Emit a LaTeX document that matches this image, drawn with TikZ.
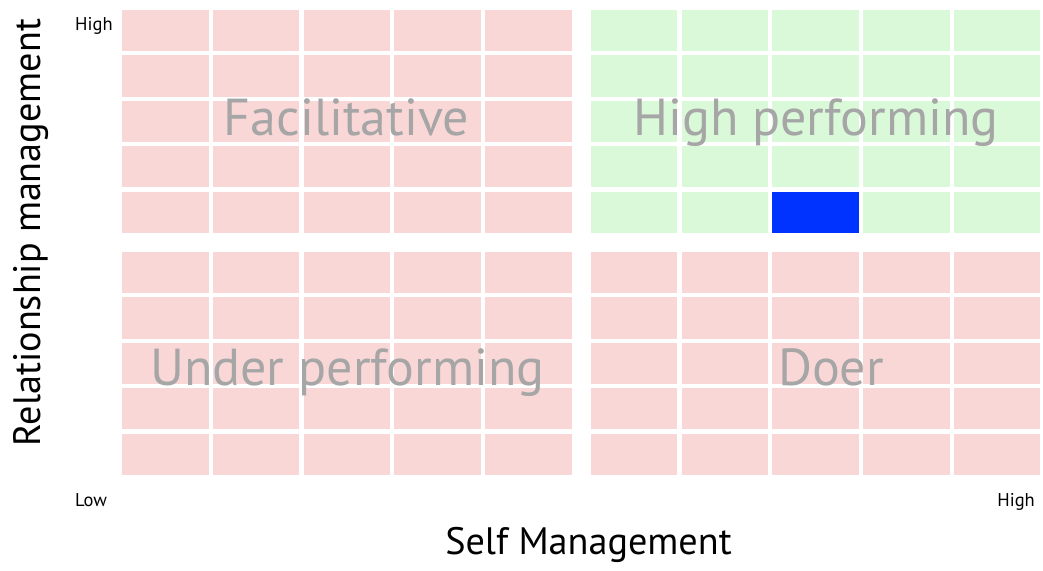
\documentclass[tikz,border=0pt]{standalone}
\usepackage{fontspec}
\setmainfont{PT Sans}
\definecolor{cellpink}{HTML}{FAD7D7}
\definecolor{cellgreen}{HTML}{D9F9D9}
\definecolor{cellblue}{HTML}{0033FF}
\definecolor{quadgrey}{HTML}{A6A6A6}
\tikzset{
  quadlabel/.style={text=quadgrey, font=\fontsize{52}{60}\selectfont, inner sep=0pt, anchor=base},
  axislabel/.style={text=black, font=\fontsize{38.2}{44}\selectfont, inner sep=0pt, anchor=base},
  ticklabel/.style={text=black, font=\fontsize{18.5}{20}\selectfont, inner sep=0pt},
}
\newcommand{\cellw}{86.5}
\newcommand{\cellh}{41.1}
\newcommand{\pitchx}{90.8}
\newcommand{\pitchy}{45.4}
\begin{document}
\begin{tikzpicture}[x=1pt,y=-1pt]
\useasboundingbox (0,0) rectangle (1043,570);
% quadrants: origin x, origin y, colour
\foreach \ox/\oy/\col in {122/10/cellpink, 590.7/10/cellgreen, 122/252/cellpink, 590.7/252/cellpink}{
  \foreach \i in {0,...,4}{
    \foreach \j in {0,...,4}{
      \fill[\col] ({\ox+\i*\pitchx},{\oy+\j*\pitchy}) rectangle ++(\cellw,\cellh);
    }
  }
}
% highlighted cell
\fill[cellblue] (772,191.6) rectangle ++(\cellw,\cellh);
% quadrant labels
\node[quadlabel] (fac) at (346.5,135) {Facilitative};
\node[quadlabel] (hp) at (816,135) {High performing};
\node[quadlabel] (up) at (347.5,385) {Under performing};
\node[quadlabel] (doer) at (831,385) {Doer};
% tick labels
\node[ticklabel, anchor=base west] (yhigh) at (75,30) {High};
\node[ticklabel, anchor=base west] (xlow) at (75,506) {Low};
\node[ticklabel, anchor=base east] (xhigh) at (1035,506) {High};
% axis labels
\node[axislabel] (xaxis) at (588.5,554) {Self Management};
\node[axislabel, rotate=90] (yaxis) at (40,232.5) {Relationship management};
\end{tikzpicture}
\end{document}
